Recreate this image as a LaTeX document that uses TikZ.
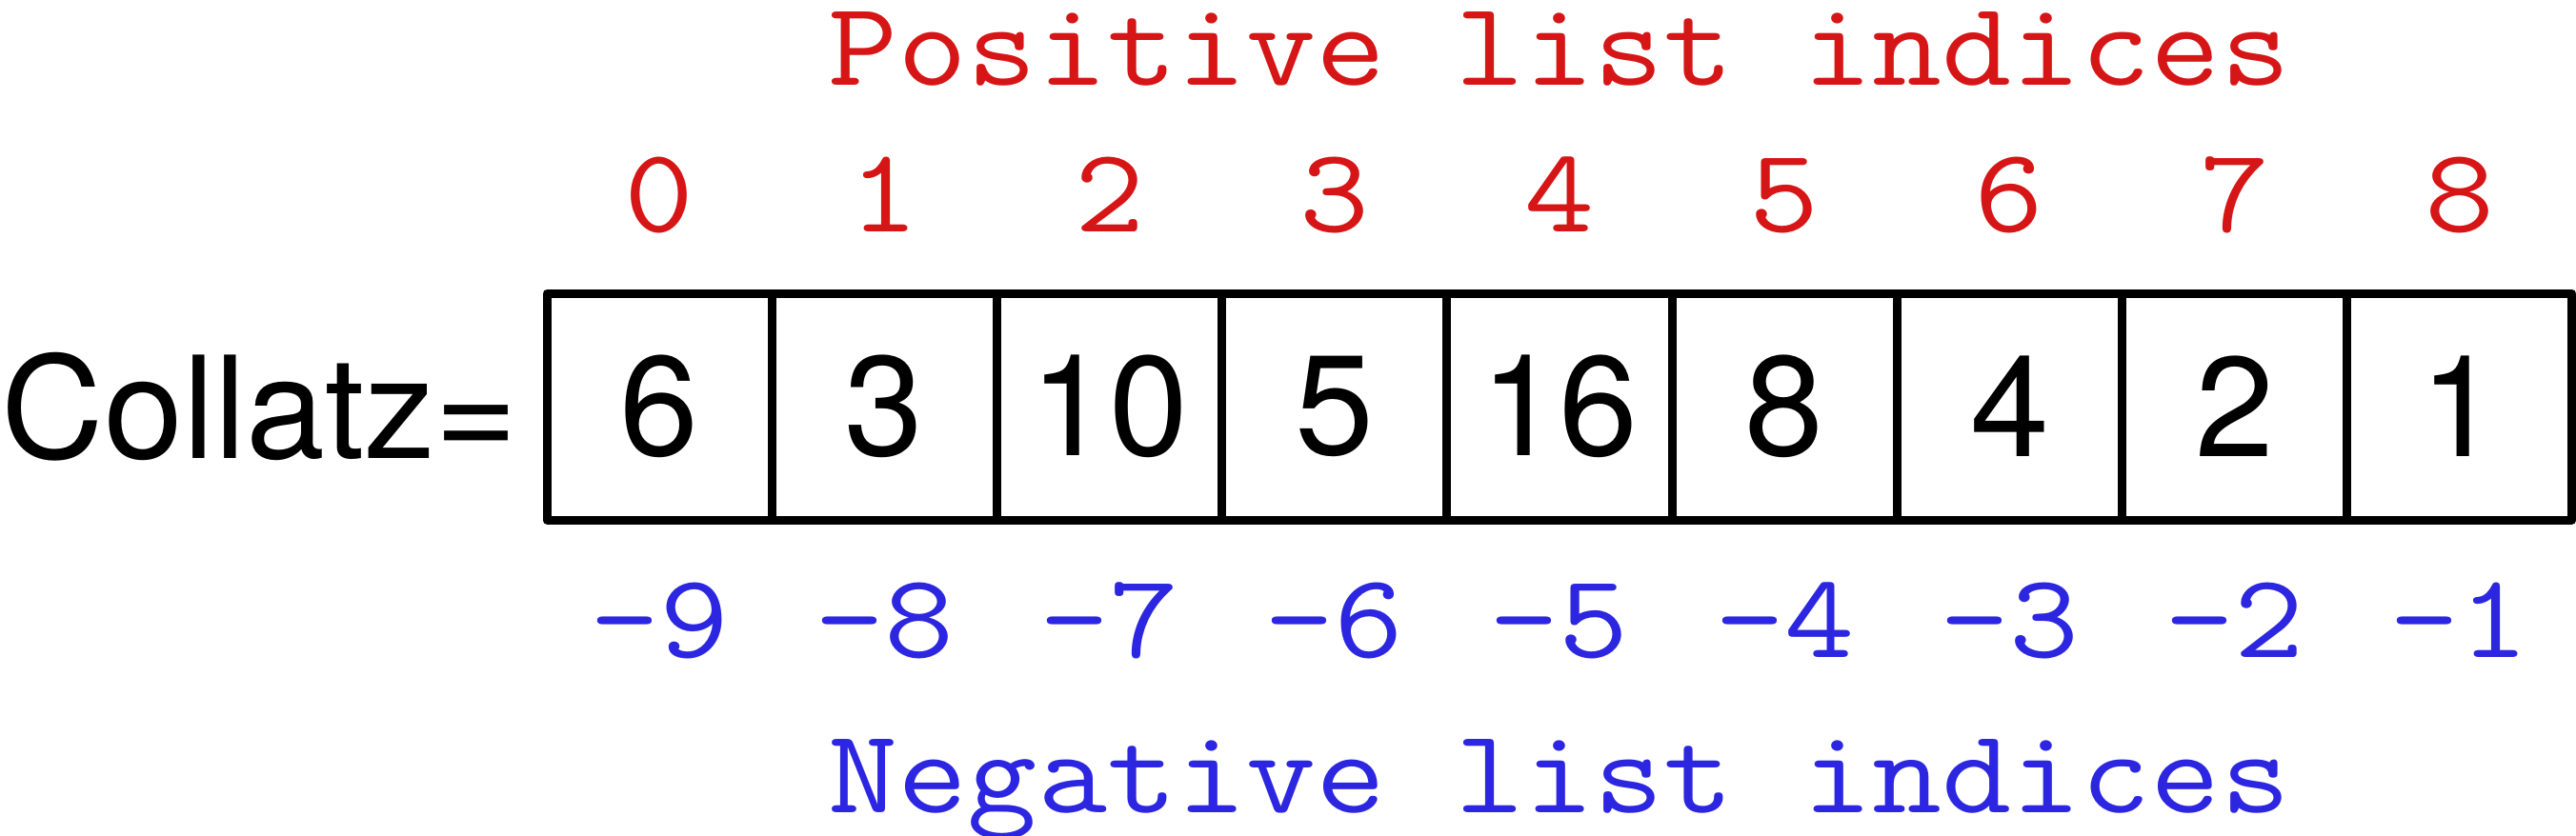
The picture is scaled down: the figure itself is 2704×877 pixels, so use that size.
\documentclass[tikz,border=0pt]{standalone}
\usepackage{graphicx}
\usepackage{fontspec}
\setmainfont{TeX Gyre Heros}
\newcommand{\mtxt}[1]{\scalebox{1.126}[1]{\ttfamily\fontsize{12.6pt}{14pt}\selectfont #1}}
\definecolor{posred}{RGB}{214,22,22}
\definecolor{negblue}{RGB}{45,38,225}
\begin{document}
\begin{tikzpicture}[x=0.1pt,y=-0.1pt,
  cell/.style={draw=black, line width=0.9pt, line join=round, rectangle, inner sep=0pt,
    minimum width=23.62pt, minimum height=23.8pt,
    font=\fontsize{14.9pt}{16pt}\selectfont},
  posidx/.style={anchor=base, inner sep=0pt, text=posred},
  negidx/.style={anchor=base, inner sep=0pt, text=negblue},
  lbl/.style={anchor=base east, inner sep=0pt, font=\fontsize{14.9pt}{16pt}\selectfont}]
\useasboundingbox (0,0) rectangle (2704,877);
\foreach \v [count=\i from 0] in {6,3,10,5,16,8,4,2,1}{
  \pgfmathsetmacro{\cx}{574+236.22*(\i+0.5)}
  \pgfmathtruncatemacro{\ni}{\i-9}
  \node[cell] (c\i) at (\cx,427) {\v};
  \node[posidx] (p\i) at (\cx,243) {\mtxt{\i}};
  \node[negidx] (n\i) at (\cx,690) {\mtxt{\ni}};
}
\node[lbl] (name) at (546,481) {Collatz=};
\node[posidx] (ptitle) at (1637,89) {\mtxt{Positive list indices}};
\node[negidx] (ntitle) at (1637,853) {\mtxt{Negative list indices}};
\end{tikzpicture}
\end{document}
